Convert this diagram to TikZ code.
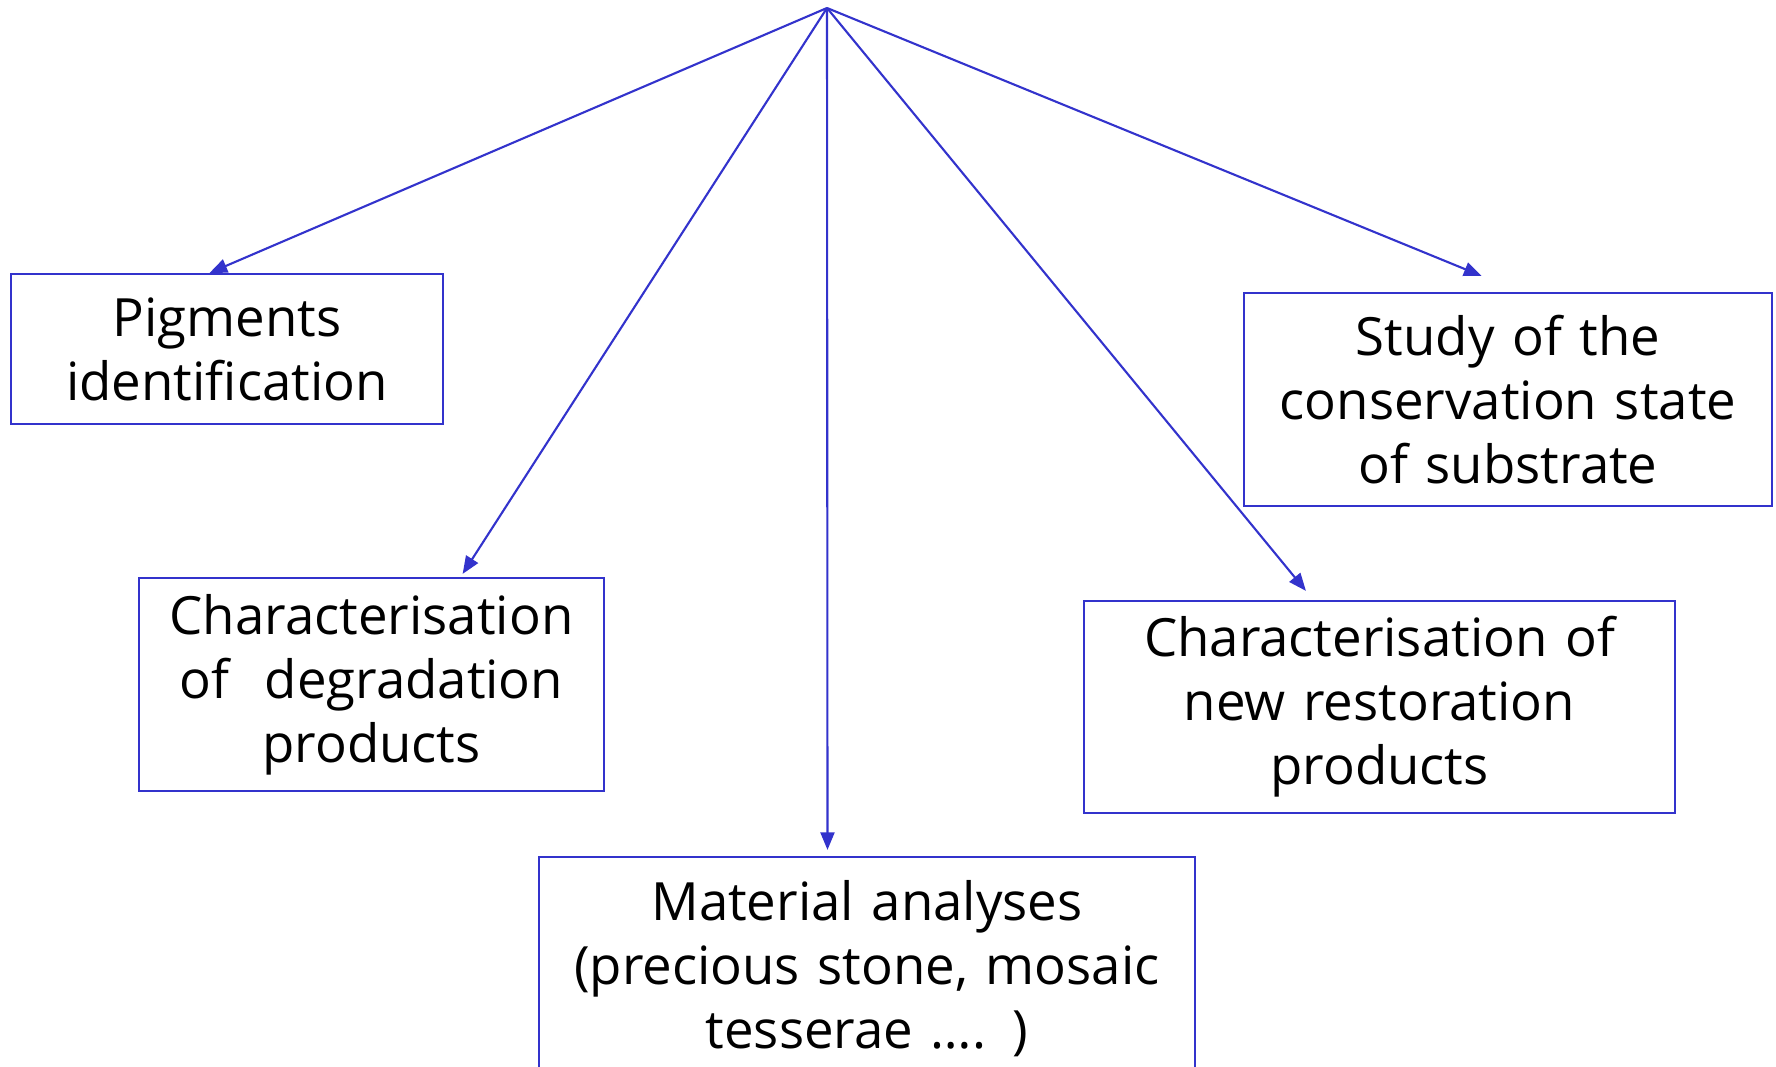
\documentclass[tikz,border=0pt]{standalone}
\usepackage{fontspec}
\setmainfont{Open Sans}
\usetikzlibrary{arrows.meta,calc}
\definecolor{lineblue}{RGB}{51,51,204}
\begin{document}
\begin{tikzpicture}[x=0.01cm,y=-0.01cm,
  box/.style={draw=lineblue,line width=0.6pt,align=center,inner sep=0pt,
    font=\fontsize{15}{18.2}\selectfont,text=black},
  conn/.style={draw=lineblue,line width=0.6pt,-{Triangle[length=5pt,width=4pt]}}]
\useasboundingbox (0,0) rectangle (1776,1067);
\clip (0,0) rectangle (1776,1067);
\coordinate (top) at (827,8);
\node[box,minimum width=4.32cm,minimum height=1.50cm,text width=4.2cm] (b1) at (227,349)
  {Pigments\\identification};
\node[box,minimum width=4.65cm,minimum height=2.13cm,text width=4.6cm] (b2) at (371.5,684.5)
  {Characterisation\\of~~degradation\\products};
\node[box,minimum width=6.56cm,minimum height=2.23cm,text width=6.5cm] (b3) at (867,968.5)
  {Material analyses\\(precious stone, mosaic\\tesserae …. )};
\node[box,minimum width=5.91cm,minimum height=2.12cm,text width=5.8cm] (b4) at (1379.5,707)
  {Characterisation of\\new restoration\\products};
\node[box,minimum width=5.28cm,minimum height=2.13cm,text width=5.2cm] (b5) at (1508,399.5)
  {Study of the\\conservation state\\of substrate};
\draw[conn] (top) -- ($(b1.north west)!0.46!(b1.north east)$);
\draw[conn] (top) -- ($(b2.north west)!0.695!(b2.north east)+(0,-3)$);
\draw[conn] (top) -- ($(b3.north west)!0.44!(b3.north east)+(0,-6)$);
\draw[conn] (top) -- ($(b4.north west)!0.376!(b4.north east)+(0,-9)$);
\draw[conn] (top) -- ($(b5.north west)!0.45!(b5.north east)+(0,-16)$);
\end{tikzpicture}
\end{document}
